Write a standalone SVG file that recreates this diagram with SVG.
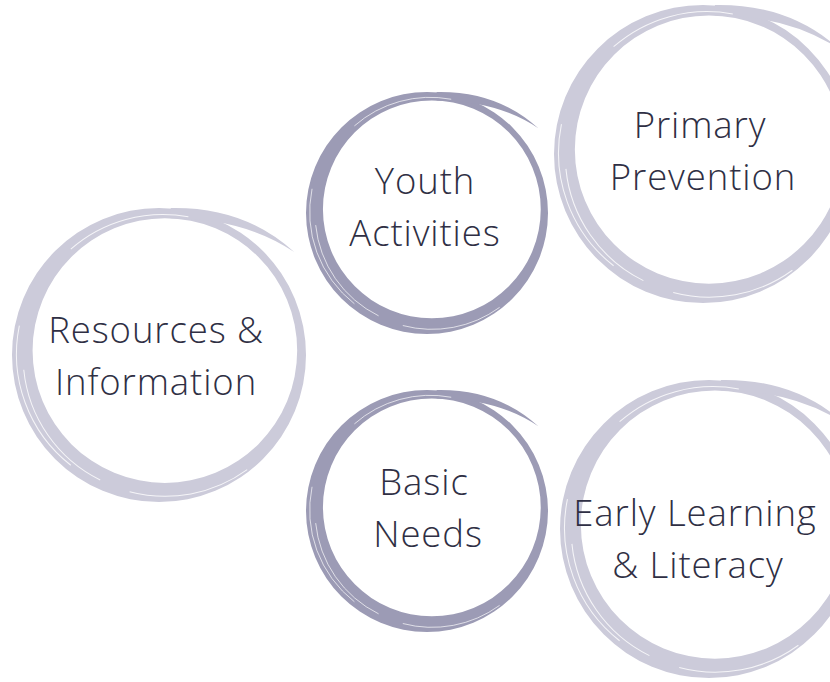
<svg xmlns="http://www.w3.org/2000/svg" xmlns:xlink="http://www.w3.org/1999/xlink" width="830" height="682" viewBox="0 0 830 682">
<style>
.lbl{font-family:"Open Sans","Noto Sans","Liberation Sans",sans-serif;font-size:36.5px;font-weight:350;letter-spacing:0.9px;fill:#2f2f44;text-anchor:middle}
.dark{fill:#9c9bb5}
.light{fill:#cccbda}
.streak{fill:none;stroke:#ffffff;stroke-width:0.7;opacity:0.8}
</style>
<defs>
<g id="ring">
<path fill-rule="evenodd" d="M -100,0 a100,100 0 1,0 200,0 a100,100 0 1,0 -200,0 Z M -86,-3 a90,90 0 1,0 180,0 a90,90 0 1,0 -180,0 Z"/>
<path d="M 8,-100 Q 58,-101 92,-70 Q 58,-93 8,-93 Z"/>
<path class="streak" d="M -95,-20 A 96,96 0 0,0 -60,75"/>
<path class="streak" d="M -92,10 A 94,94 0 0,0 -40,85"/>
<path class="streak" d="M -60,-72 A 95,95 0 0,1 20,-94"/>
<path class="streak" d="M -20,93 A 95,95 0 0,0 60,78"/>
</g>
</defs>
<g id="resources">
<use xlink:href="#ring" href="#ring" class="light" transform="translate(159,355) scale(1.47)"/>
<text class="lbl" x="156" y="343">Resources &amp;</text>
<text class="lbl" x="156" y="395">Information</text>
</g>
<g id="youth">
<use xlink:href="#ring" href="#ring" class="dark" transform="translate(427,213) scale(1.21)"/>
<text class="lbl" x="425" y="194">Youth</text>
<text class="lbl" x="425" y="246">Activities</text>
</g>
<g id="basic">
<use xlink:href="#ring" href="#ring" class="dark" transform="translate(427,511) scale(1.21)"/>
<text class="lbl" x="424" y="495">Basic</text>
<text class="lbl" x="428" y="547">Needs</text>
</g>
<g id="primary">
<use xlink:href="#ring" href="#ring" class="light" transform="translate(703,154) scale(1.49)"/>
<text class="lbl" x="700" y="138">Primary</text>
<text class="lbl" x="703" y="190">Prevention</text>
</g>
<g id="early">
<use xlink:href="#ring" href="#ring" class="light" transform="translate(709,529) scale(1.49)"/>
<text class="lbl" x="695" y="526">Early Learning</text>
<text class="lbl" x="698" y="578">&amp; Literacy</text>
</g>
<g id="connectors"/>
</svg>
